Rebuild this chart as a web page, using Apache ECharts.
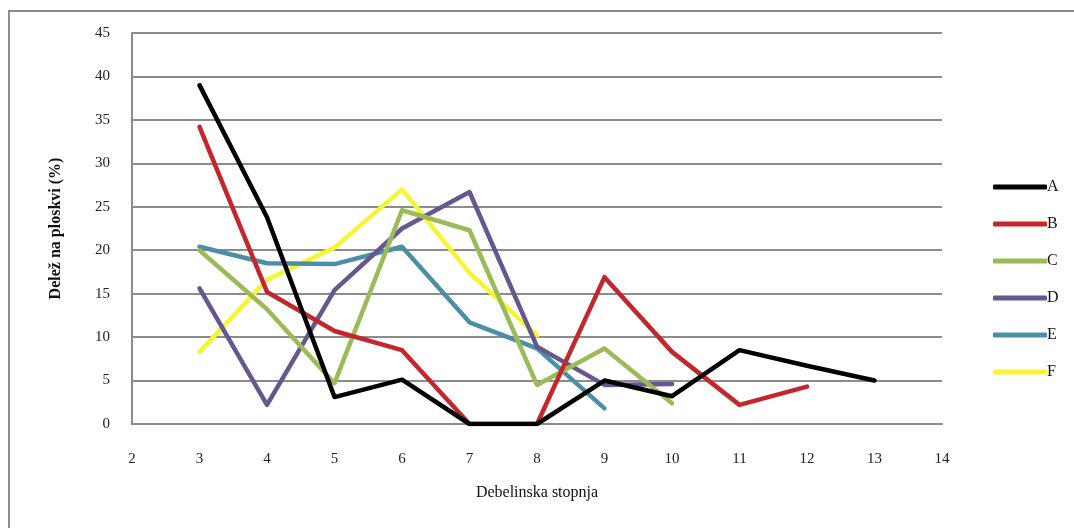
<!DOCTYPE html>
<html>
<head>
<meta charset="utf-8">
<script src="https://cdn.jsdelivr.net/npm/echarts@6/dist/echarts.min.js"></script>
<style>
  html, body { margin: 0; padding: 0; background: #fff; }
  #chart { width: 1074px; height: 528px; }
</style>
</head>
<body>
<div id="chart"></div>
<script>
// Diameter classes (x) and share per plot (%) for each stand
const stopnje = [3, 4, 5, 6, 7, 8, 9, 10, 11, 12, 13];
const seriesNames = ['A', 'B', 'C', 'D', 'E', 'F'];
const valuesA = [39.0, 23.8, 3.1, 5.1, 0, 0, 5.0, 3.2, 8.5, 6.7, 5.0];
const valuesB = [34.2, 15.2, 10.7, 8.5, 0, 0, 16.9, 8.3, 2.2, 4.3];
const valuesC = [20.0, 13.2, 4.7, 24.6, 22.3, 4.5, 8.7, 2.4];
const valuesD = [15.6, 2.2, 15.4, 22.5, 26.7, 8.9, 4.5, 4.6];
const valuesE = [20.4, 18.5, 18.4, 20.4, 11.7, 8.7, 1.8];
const valuesF = [8.3, 16.6, 20.3, 27.0, 17.4, 10.2];
const colors = ['#000000', '#c3262c', '#9bbb59', '#67578f', '#4a8fa6', '#f6f534'];

const allValues = [valuesA, valuesB, valuesC, valuesD, valuesE, valuesF];
const serif = '"Liberation Serif", "DejaVu Serif", serif';

const chart = echarts.init(document.getElementById('chart'), null, { renderer: 'canvas' });

const series = allValues.map((vals, i) => ({
  name: seriesNames[i],
  type: 'line',
  data: vals.map((v, k) => [stopnje[k], v]),
  symbol: 'none',
  smooth: false,
  color: colors[i],
  lineStyle: { width: 4.5, color: colors[i], cap: 'round', join: 'round' },
  z: 10 - i
}));

chart.setOption({
  animation: false,
  backgroundColor: '#ffffff',
  graphic: [{
    type: 'rect',
    shape: { x: 9, y: 11, width: 1100, height: 560 },
    style: { fill: 'none', stroke: '#8c8c8c', lineWidth: 2 },
    silent: true
  }],
  grid: { left: 132, right: 132, top: 33, bottom: 104 },
  legend: {
    orient: 'vertical',
    left: 988,
    top: 174,
    itemWidth: 54,
    itemHeight: 5,
    itemGap: 21,
    icon: 'roundRect',
    textStyle: { fontFamily: serif, fontSize: 16, color: '#111', padding: [0, 0, 0, -5] },
    data: seriesNames
  },
  xAxis: {
    type: 'value',
    min: 2,
    max: 14,
    interval: 1,
    name: 'Debelinska stopnja',
    nameLocation: 'middle',
    nameGap: 61,
    nameTextStyle: { fontFamily: serif, fontSize: 16, color: '#111' },
    axisLine: { show: true, onZero: true, lineStyle: { color: '#8c8c8c', width: 2 } },
    axisTick: { show: false },
    splitLine: { show: false },
    axisLabel: { fontFamily: serif, fontSize: 15, color: '#222', margin: 28 }
  },
  yAxis: {
    type: 'value',
    min: 0,
    max: 45,
    interval: 5,
    name: 'Delež na ploskvi (%)',
    nameLocation: 'middle',
    nameGap: 68,
    nameTextStyle: { fontFamily: serif, fontSize: 16, fontWeight: 'bold', color: '#111' },
    axisLine: { show: true, lineStyle: { color: '#8c8c8c', width: 2 } },
    axisTick: { show: false },
    splitLine: { show: true, lineStyle: { color: '#8c8c8c', width: 2 } },
    axisLabel: { fontFamily: serif, fontSize: 15, color: '#222', margin: 22 }
  },
  series: series
});
</script>
</body>
</html>
